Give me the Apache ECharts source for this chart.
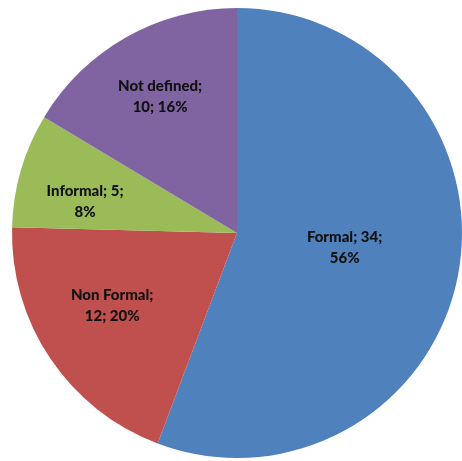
<!DOCTYPE html>
<html>
<head>
<meta charset="utf-8">
<script src="https://cdn.jsdelivr.net/npm/echarts@6/dist/echarts.min.js"></script>
<style>
  html, body { margin: 0; padding: 0; background: #fff; }
  #chart { width: 462px; height: 461px; }
</style>
</head>
<body>
<div id="chart"></div>
<script>
const categories = ["Formal", "Non Formal", "Informal", "Not defined"];
const counts = [34, 12, 5, 10];
const colors = ["#4F81BD", "#C0504D", "#9BBB59", "#8064A2"];
// nudges so labels sit where the original (Excel) put them
const labelOffsets = [[-6, -6], [-29, 8], [-41, 1], [-20, -36]];

const myChart = echarts.init(document.getElementById("chart"));
myChart.setOption({
  animation: false,
  series: [
    {
      type: "pie",
      center: [237, 233],
      radius: 225,
      startAngle: 90,
      clockwise: true,
      percentPrecision: 0,
      label: {
        show: true,
        position: "inside",
        color: "#111",
        fontFamily: "Lato",
        fontWeight: 900,
        fontSize: 15,
        lineHeight: 21,
        formatter: function (p) {
          if (p.name.length <= 8) {
            return p.name + "; " + p.value + ";\n" + p.percent + "%";
          }
          return p.name + ";\n" + p.value + "; " + p.percent + "%";
        }
      },
      labelLine: { show: false },
      itemStyle: { borderWidth: 0 },
      emphasis: { disabled: true },
      data: categories.map(function (name, i) {
        return {
          name: name,
          value: counts[i],
          itemStyle: { color: colors[i] },
          label: { offset: labelOffsets[i] }
        };
      })
    }
  ]
});
</script>
</body>
</html>
